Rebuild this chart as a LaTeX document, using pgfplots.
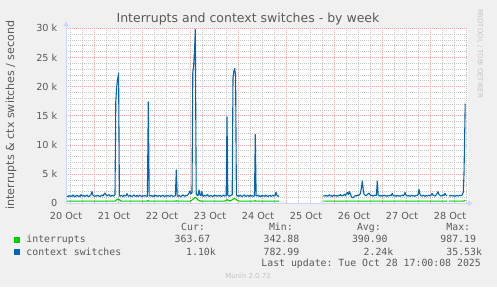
\documentclass[border=0pt]{standalone}
\usepackage{pgfplots}
\pgfplotsset{compat=1.18}
\usepackage{fontspec}
\setmainfont{DejaVu Sans}
\setmonofont{DejaVu Sans Mono}
\usetikzlibrary{arrows.meta}
\definecolor{bg}{HTML}{F0F0F0}
\definecolor{axisc}{HTML}{CFD6F8}
\definecolor{mgrid}{HTML}{F0A4A4}
\definecolor{ngrid}{HTML}{C4C4C4}
\definecolor{fontc}{HTML}{5A5A5A}
\definecolor{ints}{HTML}{00CC00}
\definecolor{ctx}{HTML}{0066B3}
\definecolor{wm}{HTML}{C4C4C4}
\pgfplotsset{chartbox/.style={
  at={(66pt,83.7pt)}, anchor=south west,
  scale only axis, width=402pt, height=175pt,
  xmin=0, xmax=201, ymin=0, ymax=30000}}
\begin{document}
\begin{tikzpicture}[x=1pt,y=1pt]
\fill[bg] (0,0) rectangle (497,287);
\path[use as bounding box] (0,0) rectangle (497,287);
% background axis: canvas and fine grid
\begin{axis}[chartbox,
  axis background/.style={fill=white},
  axis line style={draw=none}, tick style={draw=none},
  xtick={2.35,8.35,20.35,26.35,32.35,44.35,50.35,56.35,68.35,74.35,80.35,92.35,98.35,104.35,116.35,122.35,128.35,140.35,146.35,152.35,164.35,170.35,176.35,188.35,194.35,200.35},
  ytick={1000,2000,3000,4000,6000,7000,8000,9000,11000,12000,13000,14000,16000,17000,18000,19000,21000,22000,23000,24000,26000,27000,28000,29000},
  xticklabels={}, yticklabels={}, scaled y ticks=false,
  xmajorgrids=true, ymajorgrids=true,
  major grid style={draw=ngrid, dash pattern=on 1pt off 1pt, line width=0.9pt},
]
\end{axis}
% main axis
\begin{axis}[chartbox,
  axis lines=left,
  axis line style={draw=axisc, line width=1pt},
  x axis line style={-{Triangle[width=5pt,length=5pt]}, shorten >=-5pt},
  y axis line style={-{Triangle[width=5pt,length=5pt]}, shorten >=-7pt},
  scaled y ticks=false,
  xtick={0,24,...,192},
  xticklabels={20 Oct,21 Oct,22 Oct,23 Oct,24 Oct,25 Oct,26 Oct,27 Oct,28 Oct},
  extra x ticks={14.35,38.35,62.35,86.35,110.35,134.35,158.35,182.35},
  extra x tick labels={},
  extra x tick style={grid=major},
  ytick={0,5000,...,30000},
  yticklabels={0,5 k,10 k,15 k,20 k,25 k,30 k},
  xmajorgrids=false, ymajorgrids=true,
  major grid style={draw=mgrid, dash pattern=on 1pt off 1pt, line width=0.9pt},
  tick style={draw=none},
  /pgf/number format/assume math mode=true,
  tick label style={font=\fontsize{9.7}{11}\selectfont, text=fontc},
  xticklabel style={yshift=-3pt},
  yticklabel style={xshift=-3pt},
  unbounded coords=jump,
  clip=true,
]
\addplot[ctx, line width=1.1pt, line join=round] coordinates {
(0.5,1250) (1,1150) (1.5,1320) (2,1200) (2.5,1280) (3,1180) (3.5,1420) (4,1250) (4.5,1100) (5,1300) (5.5,1380) (6,1200) (6.5,1260) (7,1150) (7.5,1480) (8,1300) (8.5,1220) (9,1350) (9.5,1180) (10,1290) (10.5,1400) (11,1200) (11.5,1150) (12,1320) (12.5,1500) (13,2000) (13.5,1400) (14,1250) (14.5,1180) (15,1300) (15.5,1220) (16,1380) (16.5,1260) (17,1150) (17.5,1300) (18,1420) (18.5,1250) (19,1550) (19.5,1750) (20,1450) (20.5,1300) (21,1380) (21.5,1500) (22,1260) (22.5,1200) (23,1400) (23.5,1300) (24,1250) (24.5,1450)
(24.9,17500) (25.3,19800) (25.7,21000) (26.1,21800) (26.3,22300) (26.7,1300)
(27,1200) (27.5,1350) (28,1280) (28.5,1150) (29,1400) (29.5,1250) (30,1300) (30.5,1650) (31,1300) (31.5,1200) (32,1380) (32.5,1250) (33,1150) (33.5,1300) (34,1450) (34.5,1250) (35,1200) (35.5,1330) (36,1180) (36.5,1280) (37,1400) (37.5,1250) (38,1150) (38.5,1300) (39,1220) (39.5,1350) (40,1250) (40.7,1200)
(41.15,17400) (41.6,1300)
(42,1250) (42.5,1380) (43,1200) (43.5,1300) (44,1150) (44.5,1420) (45,1250) (45.5,1300) (46,1200) (46.5,1350) (47,1280) (47.5,1180) (48,1300) (48.5,1400) (49,1250) (49.5,1150) (50,1300) (50.5,1220) (51,1350) (51.5,1250) (52,1200) (52.5,1400) (53,1300) (53.5,1180) (54,1250) (54.7,1300)
(55.15,5700) (55.6,1250)
(56,1200) (56.5,1350) (57,1250) (57.5,1150) (58,1300) (58.5,1450) (59,1250) (59.5,1200) (60,1380) (60.5,1300) (61,1500) (61.5,1700) (62,2100) (62.5,1600) (63,1800)
(63.4,22500) (63.8,23500) (64.3,26500) (64.65,29800) (65.1,1700)
(65.5,1400) (66,1300) (66.5,2300) (67,1400) (67.5,1300) (67.85,2000) (68.3,1350) (68.8,1200) (69.3,1400) (69.8,1250) (70.3,1300) (70.8,1500) (71.3,1250) (71.8,1200) (72.3,1350) (72.8,1280) (73.3,1150) (73.8,1300) (74.3,1420) (74.8,1250) (75.3,1300) (75.8,1200) (76.3,1380) (76.8,1250) (77.3,1300) (77.8,1180) (78.3,1300) (78.8,1400) (79.3,1250) (79.8,1300) (80.1,1350)
(80.5,14800) (80.9,1400)
(81.3,1300) (81.8,1200) (82.3,1350) (82.8,1400) (83.1,1500)
(83.5,21500) (83.9,22600) (84.35,23100) (84.8,21800) (85.2,1400)
(85.6,1250) (86.1,1300) (86.6,1200) (87.1,1400) (87.6,1250) (88.1,1150) (88.6,1300) (89.1,1450) (89.6,1250) (90.1,1200) (90.6,1350) (91.1,1300) (91.6,1180) (92.1,1400) (92.6,1250) (93.1,1300) (93.6,1200) (94.25,1300)
(94.65,11800) (95.05,1350)
(95.5,1250) (96,1400) (96.5,1200) (97,1300) (97.5,1150) (98,1350) (98.5,1250) (99,1300) (99.5,1200) (100,1400) (100.5,1250) (101,1150) (101.5,1300) (102,1350) (102.5,1200) (103,1280) (103.5,1400) (104,1250) (104.5,1300) (105,1900) (105.5,1350) (106,1200) (106.5,1300) (107,nan)
(128.7,1200) (129.2,1300) (129.7,1250) (130.2,1380) (130.7,1200) (131.2,1300) (131.7,1450) (132.2,1250) (132.7,1300) (133.2,1150) (133.7,1350) (134.2,1400) (134.7,1250) (135.2,1300) (135.7,1200) (136.2,1380) (136.7,1300) (137.2,1500) (137.7,1350) (138.2,1250) (138.7,1400) (139.2,1550) (139.7,1300) (140.2,1600) (140.7,1850) (141.2,1500) (141.7,2000) (142.2,1600) (142.7,1100) (143.2,950) (143.7,1000) (144.2,1200) (144.7,1300) (145.2,1250) (145.7,1400) (146.2,1350) (146.7,1450) (147.2,1700) (147.7,2600) (148.15,3800) (148.6,2400) (149,1600) (149.5,1400) (150,1300) (150.5,1450) (151,1600) (151.5,1750) (152,1500) (152.5,1300) (153,1400) (153.5,1250) (154,1300) (154.5,1400) (155.2,1350) (155.65,3800) (156.1,1400) (156.6,1300) (157.1,1250) (157.6,1350) (158.1,1200) (158.6,1300) (159.1,1400) (159.6,1250) (160.1,1300) (160.6,1200) (161.1,1350) (161.6,1250) (162.1,1400) (162.6,1300) (163.1,1700) (163.6,1350) (164.1,1250) (164.6,1300) (165.1,1200) (165.6,1380) (166.1,1250) (166.6,1300) (167.1,1200) (167.6,1350) (168.1,1400) (168.6,1250) (169.1,1500) (169.5,1850) (170,1400) (170.5,1300) (171,1250) (171.5,1350) (172,1200) (172.5,1300) (173,1400) (173.5,1250) (174,1300) (174.5,1200) (175,1350) (175.5,1300) (176,1500) (176.5,2400) (177,1500) (177.5,1300) (178,1250) (178.5,1400) (179,1300) (179.5,1200) (180,1350) (180.5,1250) (181,1300) (181.5,1400) (182,1250) (182.5,1400) (183,1700) (183.5,1400) (184,1300) (184.5,1250) (185,1400) (185.5,1650) (186,2000) (186.5,1500) (187,1350) (187.5,1250) (188,1300) (188.5,1450) (189,1350) (189.5,1700) (190,1400) (190.5,1300) (190.9,nan)
(191.5,1300) (192,1250) (192.5,1350) (193,1300) (193.5,1250) (194,1300) (194.5,1200) (195,1300) (195.5,1350) (196,1250) (196.5,1300) (197,1350) (197.5,1300) (198,1400) (198.65,1900) (199,5000) (199.6,17100)
};
\addplot[ints, line width=1.1pt, line join=round] coordinates {
(0.5,370) (3,365) (6,375) (9,368) (12,372) (15,366) (18,375) (21,368) (24,372) (24.7,400) (25.3,600) (25.9,700) (26.5,690) (27.1,480) (27.6,380) (30,370) (33,366) (36,374) (39,368) (40.8,372) (41.15,500) (41.5,375) (44,368) (47,372) (50,366) (53,372) (54.8,370) (55.15,450) (55.5,372) (58,368) (61,372) (62.3,390) (63.2,600) (64,850) (64.7,980) (65.4,820) (66.2,520) (67,390) (70,370) (73,366) (76,372) (79,370) (79.8,420) (80.5,620) (81.2,520) (82,420) (82.7,480) (83.4,700) (84.2,800) (85,700) (85.8,450) (86.6,380) (89,368) (92,372) (94.3,372) (94.65,450) (95,372) (98,368) (101,372) (104,366) (106.5,370) (107,nan)
(128.7,370) (132,366) (136,374) (140,368) (144,372) (148,375) (152,368) (156,372) (160,366) (164,372) (168,368) (172,374) (176,368) (180,372) (184,366) (188,372) (190.5,370) (190.9,nan)
(191.5,368) (194,370) (197,366) (198.5,372) (199.2,420) (199.6,560)
};
\end{axis}
% titles
\node[font=\fontsize{12.5}{14}\selectfont, text=fontc] at (248,268) {Interrupts and context switches - by week};
\node[rotate=90, font=\fontsize{11.1}{13}\selectfont, text=fontc] at (11,172) {interrupts \& ctx switches / second};
\node[rotate=-90, font=\fontsize{6.9}{8}\selectfont, text=wm] at (480,233.5) {RRDTOOL / TOBI OETIKER};
% legend
\begin{scope}[every node/.style={inner sep=0pt, anchor=base west, text=fontc, font=\ttfamily\fontsize{9.85}{11}\selectfont}]
\node at (181,56.5) {Cur:};
\node at (268.8,56.5) {Min:};
\node at (356.8,56.5) {Avg:};
\node at (446.2,56.5) {Max:};
\node at (26.2,44.5) {interrupts};
\node at (174.5,44.5) {363.67};
\node at (263.5,44.5) {342.88};
\node at (351.8,44.5) {390.90};
\node at (440.2,44.5) {987.19};
\node at (26.2,31.5) {context switches};
\node at (186,31.5) {1.10k};
\node at (263.5,31.5) {782.99};
\node at (363.5,31.5) {2.24k};
\node at (446.2,31.5) {35.53k};
\node at (261.2,20.5) {Last update: Tue Oct 28 17:00:08 2025};
\end{scope}
\fill[ints] (14,43.7) rectangle (20,49.7);
\fill[ctx] (14,31.7) rectangle (20,37.7);
\node[font=\fontsize{6.9}{8}\selectfont, text=wm] at (248,11) {Munin 2.0.73};
\end{tikzpicture}
\end{document}
